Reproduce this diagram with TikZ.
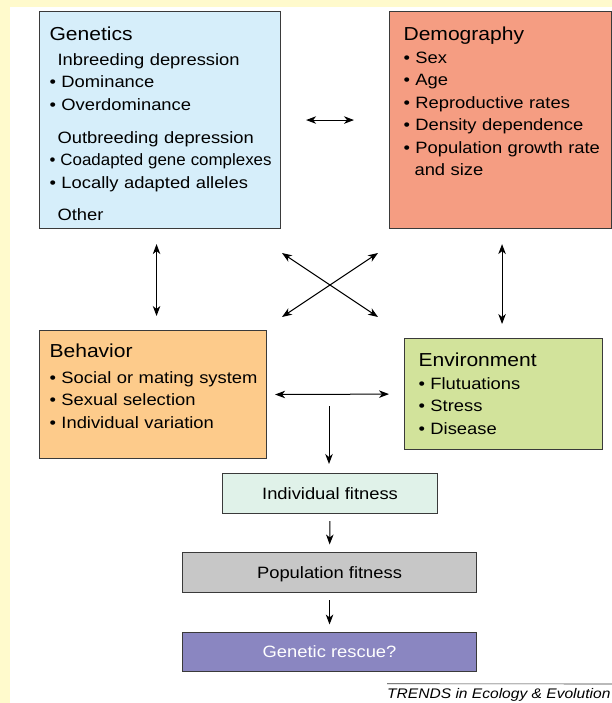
\documentclass[tikz,border=0pt]{standalone}
\usepackage{fontspec}
\setmainfont[FakeStretch=1.12]{Liberation Sans}
\usepackage{graphicx}
\usetikzlibrary{arrows.meta,calc}

\definecolor{couleurfond}{HTML}{FFFACC}
\definecolor{couleurbord}{HTML}{3A3A3A}
\definecolor{couleurgene}{HTML}{D6EEFA}
\definecolor{couleurdemo}{HTML}{F59D82}
\definecolor{couleurcomp}{HTML}{FDCB8B}
\definecolor{couleurenvi}{HTML}{D2E39B}
\definecolor{couleurindi}{HTML}{E0F2E9}
\definecolor{couleurpopu}{HTML}{C7C7C7}
\definecolor{couleursauv}{HTML}{8A86C1}
\newcommand{\puce}[1]{\mbox{\textbullet\ #1}}
\newcommand{\titre}[1]{{\fontsize{18.8}{22.4}\selectfont #1}}
\newcommand{\liendouble}[4]{\draw[lien, <->, shorten <=#3, shorten >=#4] (#1) -- (#2);}
\newcommand{\lienbas}[2]{\draw[lien, ->, shorten <=7pt, shorten >=7.5pt] (#1.south) -- (#2.north);}
\tikzset{
		basic/.style={draw=couleurbord, line width=1.1pt, anchor=north west, inner ysep=0pt, align=left, text=black, font=\fontsize{16.4}{22.4}\selectfont},
		facteur/.style={basic, inner xsep=#1, text height=27.7pt},
		resultat/.style={basic, align=center, inner sep=0pt, text height=11.8pt, text depth=0pt},
		lien/.style={line width=1pt, >={Stealth[length=10pt,width=7.5pt,inset=3pt]}}
	}

\begin{document}
\begin{tikzpicture}[x=1pt, y=-1pt]
		\useasboundingbox (0,0) rectangle (612,703);
		\fill[couleurfond] (0,0) rectangle (612,703);
		\fill[white] (10,7) rectangle (612,703);
		% facteurs
		\node[facteur=10pt, fill=couleurgene, text width=221pt, text height=28.7pt, text depth=188.3pt] (genetiq) at (39,11) {\titre{Genetics}\\[2.9pt]
			\hspace*{8pt}Inbreeding depression\\
			\puce{Dominance}\\
			\puce{Overdominance}\\[10.6pt]
			\hspace*{8pt}Outbreeding depression\\
			\scalebox{0.92}[1]{\puce{Coadapted gene complexes}}\\
			\puce{Locally adapted alleles}\\[9.6pt]
			\hspace*{8pt}Other};
		\node[facteur=14pt, fill=couleurdemo, text width=194pt, text height=28.7pt, text depth=188.3pt] (demograf) at (389,11) {\titre{Demography}\\[0.9pt]
			\puce{Sex}\\
			\puce{Age}\\
			\puce{Reproductive rates}\\
			\puce{Density dependence}\\
			\puce{Population growth rate}\\
			\hspace*{11pt}and size};
		\node[facteur=10pt, fill=couleurcomp, text width=207pt, text height=26.7pt, text depth=101.3pt] (comporte) at (39,330) {\titre{Behavior}\\[3.9pt]
			\puce{Social or mating system}\\
			\puce{Sexual selection}\\
			\puce{Individual variation}};
		\node[facteur=14pt, fill=couleurenvi, text width=170pt, text depth=83.3pt] (environn) at (404,338) {\titre{Environment}\\[0.9pt]
			\puce{Flutuations}\\
			\puce{Stress}\\
			\puce{Disease}};
		% resultats
		\node[resultat, fill=couleurindi, minimum width=215pt, minimum height=40pt] (fitnindi) at (222,473) {Individual fitness};
		\node[resultat, fill=couleurpopu, minimum width=294pt, minimum height=40pt] (fitnpopu) at (182,552) {Population fitness};
		\node[resultat, fill=couleursauv, text=white, minimum width=294pt, minimum height=39pt] (sauvgene) at (182,632) {Genetic rescue?};
		\node[anchor=base west, inner sep=0pt, font=\fontsize{13.9}{16}\selectfont\itshape] (legende) at (387,698) {TRENDS in Ecology \& Evolution};
		\draw[couleurbord, line width=0.6pt] ([yshift=4pt]legende.north west) -- (612,684);

		% Liens
		\coordinate (vertgauc) at ($(genetiq.south)!0.5!(comporte.north)$);
		\coordinate (vertdroi) at ($(demograf.south)!0.5!(environn.north)$);
		\coordinate (diagnoro) at (282,253);
		\coordinate (diagsuea) at (378,317);
		\coordinate (diagnoea) at (378,253);
		\coordinate (diagsuou) at (282,317);
		\coordinate (depart) at (329,406);

		\liendouble{genetiq.east}{demograf.west}{25pt}{35pt}
		\liendouble{vertgauc |- genetiq.south}{vertgauc |- comporte.north}{15pt}{14pt}
		\liendouble{vertdroi |- demograf.south}{vertdroi |- environn.north}{15pt}{14pt}
		\liendouble{diagnoro}{diagsuea}{0pt}{0pt}
		\liendouble{diagnoea}{diagsuou}{0pt}{0pt}
		\liendouble{comporte.east}{environn.west}{8pt}{15pt}

		\draw[lien, ->, shorten >=9pt] (depart) -- (depart |- fitnindi.north);
		\lienbas{fitnindi}{fitnpopu}
		\lienbas{fitnpopu}{sauvgene}
	\end{tikzpicture}
\end{document}
